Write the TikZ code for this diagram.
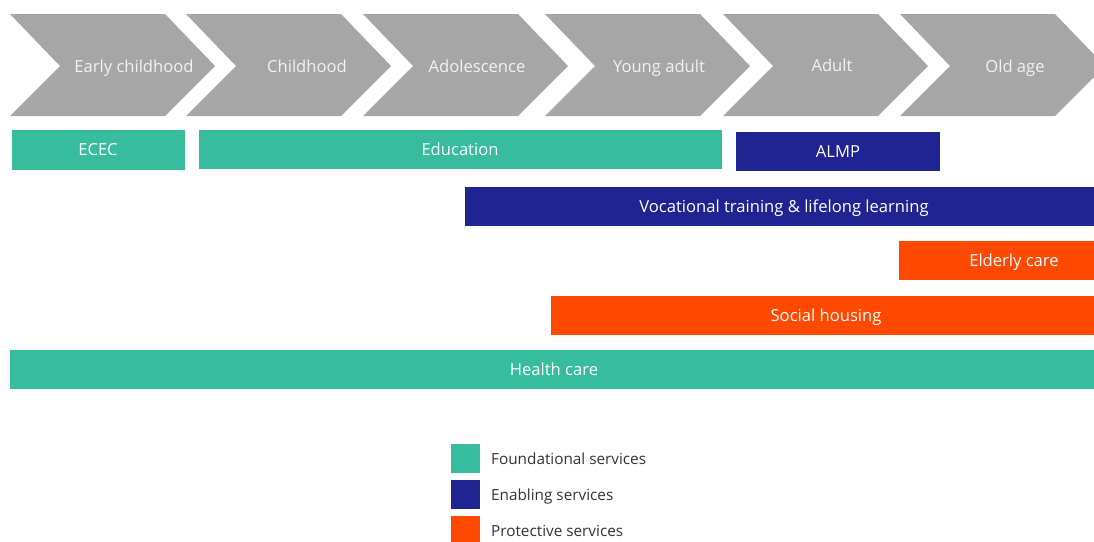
\documentclass[tikz,border=0pt]{standalone}
\usepackage{fontspec}
\setmainfont{Open Sans}
\definecolor{stagegray}{HTML}{A6A6A6}
\definecolor{foundteal}{HTML}{37BD9E}
\definecolor{enablenavy}{HTML}{202493}
\definecolor{protectorange}{HTML}{FF4800}
\definecolor{legendtext}{HTML}{333333}
\tikzset{
  stage/.style={fill=stagegray},
  stagelabel/.style={text=white!95!black, font=\fontsize{16.6}{19}\selectfont, inner sep=0pt, text height=11.8pt, text depth=0pt},
  barlabel/.style={text=white, font=\fontsize{16.6}{19}\selectfont, inner sep=0pt, text height=11.8pt, text depth=0pt},
  legendbox/.style={minimum width=29pt, minimum height=29pt, inner sep=0pt, anchor=north west},
  legendlabel/.style={text=legendtext, font=\fontsize{15.3}{18}\selectfont, anchor=west, inner sep=0pt, text height=10.9pt, text depth=0pt}
}
\begin{document}
\begin{tikzpicture}[x=1pt, y=-1pt]
\useasboundingbox (0,0) rectangle (1094,541);
% life stages
\foreach \s in {10,186,363,545,723,900}
  \fill[stage] (\s,14) -- (\s+155,14) -- (\s+205,66) -- (\s+155,116) -- (\s,116) -- (\s+50,66) -- cycle;
\node[stagelabel] (early) at (134,66.5) {Early childhood};
\node[stagelabel] (child) at (307,66.5) {Childhood};
\node[stagelabel] (adol) at (477,66.5) {Adolescence};
\node[stagelabel] (young) at (659,66.5) {Young adult};
\node[stagelabel] (adult) at (832,66) {Adult};
\node[stagelabel] (old) at (1015,66.5) {Old age};
% services
\fill[foundteal] (12,130) rectangle (185,170);
\node[barlabel] (ecec) at (98,150) {ECEC};
\fill[foundteal] (199,130) rectangle (722,169);
\node[barlabel] (educ) at (460,150) {Education};
\fill[enablenavy] (736,132) rectangle (940,171);
\node[barlabel] (almp) at (838,152) {ALMP};
\fill[enablenavy] (465,187) rectangle (1094,226);
\node[barlabel] (vocat) at (784,206.5) {Vocational training \& lifelong learning};
\fill[protectorange] (899,241) rectangle (1094,280);
\node[barlabel] (elder) at (1014,261) {Elderly care};
\fill[protectorange] (551,296) rectangle (1094,335);
\node[barlabel] (housing) at (826,316) {Social housing};
\fill[foundteal] (10,350) rectangle (1094,389);
\node[barlabel] (health) at (554,370) {Health care};
% legend
\node[legendbox, fill=foundteal] (keyfound) at (451,444) {};
\node[legendbox, fill=enablenavy] (keyenable) at (451,480) {};
\node[legendbox, fill=protectorange] (keyprotect) at (451,516) {};
\node[legendlabel] (found) at (491,459) {Foundational services};
\node[legendlabel] (enable) at (491,495) {Enabling services};
\node[legendlabel] (protect) at (491,531) {Protective services};
\end{tikzpicture}
\end{document}
